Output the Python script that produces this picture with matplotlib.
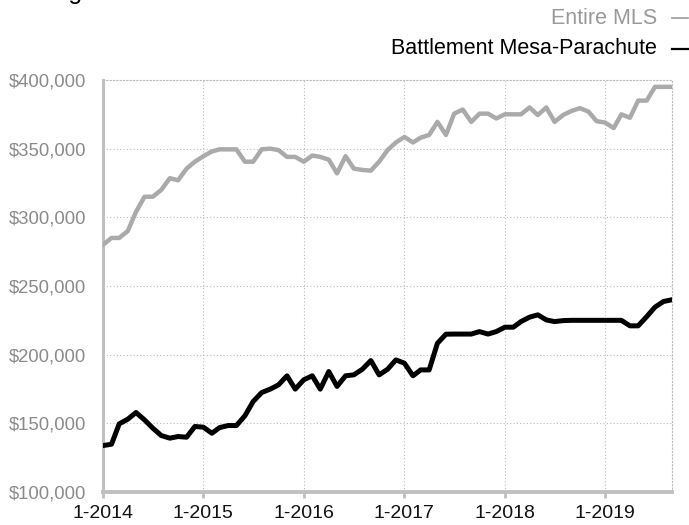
import numpy as np
import pandas as pd
import matplotlib
matplotlib.use("Agg")
import matplotlib.pyplot as plt
from matplotlib.lines import Line2D
from matplotlib.ticker import FuncFormatter

plt.rcParams['font.family'] = ['Liberation Sans', 'DejaVu Sans']

# datos: precio mediano, promedio movil 12 meses, ene-2014 a sep-2019
months = pd.date_range("2014-01-01", periods=69, freq="MS")

entire_mls = [
    280000, 285000, 285000, 290000, 304000, 315000, 315000, 320000, 328500, 327000, 335500, 340500,
    344500, 348000, 349500, 349500, 349500, 340500, 340500, 349500, 350000, 349000, 344000, 344000,
    340500, 345000, 344000, 342000, 332000, 344500, 335500, 334500, 334000, 340500, 349000, 354500,
    358500, 354500, 358000, 360000, 369500, 360000, 375500, 378500, 369500, 375500, 375500, 372000,
    375000, 375000, 375000, 380000, 374500, 380000, 369500, 374500, 377500, 379500, 377000, 370000,
    369000, 365000, 375000, 372500, 385000, 385000, 395000, 395000, 395000,
]

battlement = [
    133800, 134800, 149600, 153000, 157900, 152500, 146500, 141100, 139200, 140400, 139900, 147700,
    147200, 142800, 146900, 148400, 148400, 155500, 165900, 172400, 174900, 178000, 184600, 174900,
    181700, 184600, 174900, 187700, 176900, 184600, 185300, 189400, 195700, 185300, 189400, 196200,
    193800, 184600, 188900, 188900, 208300, 214900, 215000, 215000, 215000, 216800, 215000, 216800,
    220000, 220000, 224100, 227300, 229000, 225300, 224100, 224800, 225000, 225000, 225000, 225000,
    225000, 225000, 225000, 221000, 221000, 227700, 234600, 238700, 240000,
]

year_ticks = pd.date_range("2014-01-01", "2019-01-01", freq="YS")
year_labels = ["1-2014", "1-2015", "1-2016", "1-2017", "1-2018", "1-2019"]
y_ticks = [100000, 150000, 200000, 250000, 300000, 350000, 400000]

W, H = 689, 525
fig = plt.figure(figsize=(W / 100, H / 100), dpi=100)
ax = fig.add_axes([103 / W, 1 - 492 / H, (672 - 103) / W, (492 - 80) / H])

ax.plot(months, entire_mls, color="#aaaaaa", lw=3.2, solid_joinstyle="round", zorder=3)
ax.plot(months, battlement, color="#000000", lw=3.6, solid_joinstyle="round", zorder=4)

ax.set_xlim(months[0], months[-1])
ax.set_ylim(100000, 400000)
ax.set_xticks(year_ticks)
ax.set_xticklabels(year_labels)
ax.set_yticks(y_ticks)
ax.yaxis.set_major_formatter(FuncFormatter(lambda v, p: "${:,.0f}".format(v)))

ax.grid(True, color="#bbbbbb", linestyle=(0, (1, 2)), linewidth=0.8)
ax.set_axisbelow(True)

for s in ["top", "right"]:
    ax.spines[s].set_color("#bbbbbb")
    ax.spines[s].set_linestyle((0, (1, 2)))
    ax.spines[s].set_linewidth(0.8)
ax.spines["left"].set_color("#c0c0c0")
ax.spines["left"].set_linewidth(2.2)
ax.spines["bottom"].set_color("#c0c0c0")
ax.spines["bottom"].set_linewidth(2.8)

ax.tick_params(axis="y", length=0, pad=12, labelsize=13.3, labelcolor="#8a8a8a")
ax.tick_params(axis="x", length=4, width=2, color="#c0c0c0", pad=5,
               labelsize=14, labelcolor="#111111")

# leyenda (texto + guion)
fig.text(657 / W, 1 - 18 / H, "Entire MLS", ha="right", va="center",
         fontsize=15.5, color="#999999")
fig.text(657 / W, 1 - 49 / H, "Battlement Mesa-Parachute", ha="right", va="center",
         fontsize=15.5, color="#000000")
fig.add_artist(Line2D([672 / W, 688 / W], [1 - 18 / H, 1 - 18 / H],
                      color="#999999", lw=1.2, transform=fig.transFigure))
fig.add_artist(Line2D([672 / W, 688 / W], [1 - 49 / H, 1 - 49 / H],
                      color="#000000", lw=1.6, transform=fig.transFigure))

# titulo cortado arriba
fig.text(0.008, 1.002, "Rolling 12-Month Calculation", ha="left", va="baseline",
         fontsize=18, color="#000000")

fig.savefig("out.png", dpi=100)
